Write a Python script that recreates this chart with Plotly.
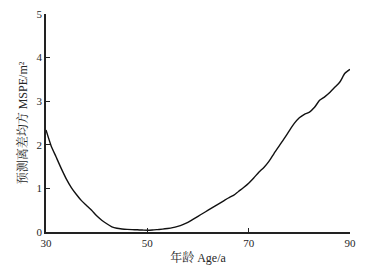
import plotly.graph_objects as go

ages = list(range(30, 91))
mspe = [2.34, 1.98, 1.72, 1.46, 1.22, 1.02, 0.86, 0.72, 0.61, 0.50,
        0.37, 0.27, 0.19, 0.12, 0.085, 0.07, 0.06, 0.055, 0.05, 0.045,
        0.04, 0.045, 0.055, 0.065, 0.08, 0.10, 0.13, 0.17, 0.22, 0.29,
        0.36, 0.43, 0.50, 0.57, 0.64, 0.71, 0.78, 0.84, 0.93, 1.02,
        1.12, 1.24, 1.37, 1.48, 1.62, 1.80, 1.97, 2.14, 2.32, 2.49,
        2.62, 2.70, 2.75, 2.86, 3.02, 3.10, 3.20, 3.32, 3.44, 3.64,
        3.73]

x_ticks = [30, 50, 70, 90]
y_ticks = [0, 1, 2, 3, 4, 5]

font_family = "Liberation Serif, Noto Serif CJK SC, Noto Sans CJK SC, serif"
text_color = "#262626"

fig = go.Figure()
fig.add_trace(go.Scatter(x=ages, y=mspe, mode="lines",
                         line=dict(color="#111111", width=1.4, shape="spline", smoothing=0.6),
                         showlegend=False, hoverinfo="skip"))

fig.update_layout(
    width=383, height=269,
    margin=dict(l=46, r=33, t=14, b=37),
    paper_bgcolor="white", plot_bgcolor="white",
    font=dict(family=font_family, size=11, color=text_color),
    xaxis=dict(range=[30, 90], tickvals=x_ticks, ticks="inside", ticklen=4,
               tickcolor="#222222", tickwidth=1.2,
               showline=True, linecolor="#222222", linewidth=1.5,
               showgrid=False, zeroline=False, automargin=False,
               title=dict(text="年龄 Age/a", font=dict(size=12, family=font_family, color=text_color), standoff=6),
               tickfont=dict(size=11, family=font_family, color=text_color)),
    yaxis=dict(range=[0, 5], tickvals=y_ticks, ticks="inside", ticklen=4,
               tickcolor="#222222", tickwidth=1.2,
               showline=True, linecolor="#222222", linewidth=1.5,
               showgrid=False, zeroline=False, automargin=False,
               title=dict(text="预测离差均方 MSPE/m²", font=dict(size=12, family=font_family, color=text_color), standoff=6),
               tickfont=dict(size=11, family=font_family, color=text_color)),
)

fig.write_html("out.html", config={"displayModeBar": False},
               post_script="document.body.style.margin='0';document.body.style.overflow='hidden';")
